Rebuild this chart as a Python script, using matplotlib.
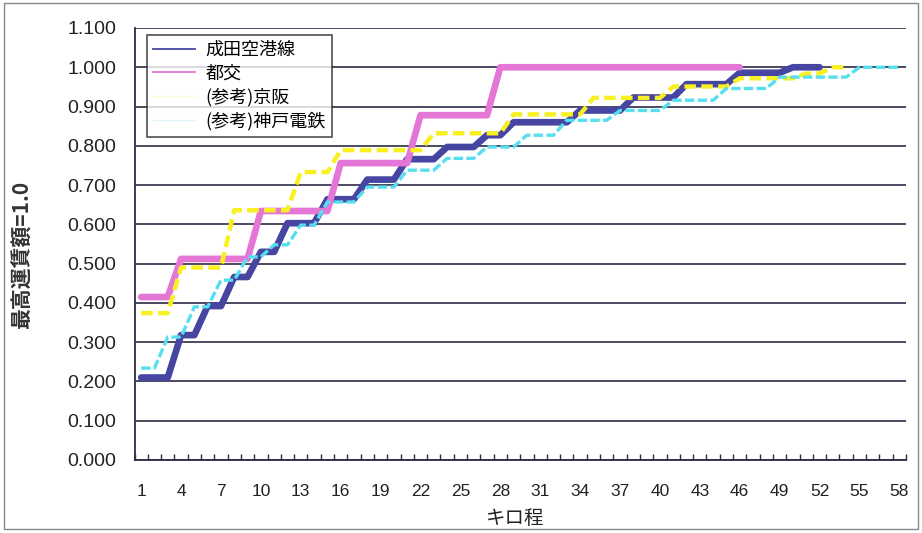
import matplotlib
matplotlib.use('Agg')
import matplotlib.pyplot as plt
from matplotlib.lines import Line2D
from matplotlib.patches import Rectangle

JP = ['Noto Sans CJK JP', 'DejaVu Sans']
NUM = ['Liberation Sans', 'DejaVu Sans']
NUM_X = ['Liberation Sans Narrow', 'Liberation Sans', 'DejaVu Sans']

# km 1..58, fare ratio to max fare
km = list(range(1, 59))
xtick_km = list(range(1, 59, 3))

narita = [0.210, 0.210, 0.210, 0.318, 0.318, 0.392, 0.392, 0.466, 0.466, 0.530,
          0.530, 0.603, 0.603, 0.603, 0.664, 0.664, 0.664, 0.714, 0.714, 0.714,
          0.766, 0.766, 0.766, 0.797, 0.797, 0.797, 0.827, 0.827, 0.860, 0.860,
          0.860, 0.860, 0.860, 0.890, 0.890, 0.890, 0.890, 0.923, 0.923, 0.923,
          0.923, 0.957, 0.957, 0.957, 0.957, 0.986, 0.986, 0.986, 0.986, 1.000,
          1.000, 1.000]
toei = [0.415, 0.415, 0.415, 0.512, 0.512, 0.512, 0.512, 0.512, 0.512, 0.634,
        0.634, 0.634, 0.634, 0.634, 0.634, 0.756, 0.756, 0.756, 0.756, 0.756,
        0.756, 0.878, 0.878, 0.878, 0.878, 0.878, 0.878, 1.000, 1.000, 1.000,
        1.000, 1.000, 1.000, 1.000, 1.000, 1.000, 1.000, 1.000, 1.000, 1.000,
        1.000, 1.000, 1.000, 1.000, 1.000, 1.000]
keihan = [0.374, 0.374, 0.374, 0.490, 0.490, 0.490, 0.490, 0.636, 0.636, 0.636,
          0.636, 0.636, 0.733, 0.733, 0.733, 0.789, 0.789, 0.789, 0.789, 0.789,
          0.789, 0.789, 0.832, 0.832, 0.832, 0.832, 0.832, 0.832, 0.880, 0.880,
          0.880, 0.880, 0.880, 0.880, 0.922, 0.922, 0.922, 0.922, 0.922, 0.922,
          0.951, 0.951, 0.951, 0.951, 0.951, 0.972, 0.972, 0.972, 0.972, 0.972,
          0.984, 0.984, 1.000, 1.000]
kobe = [0.234, 0.234, 0.313, 0.313, 0.390, 0.390, 0.458, 0.458, 0.517, 0.517,
        0.548, 0.548, 0.598, 0.598, 0.657, 0.657, 0.657, 0.695, 0.695, 0.695,
        0.738, 0.738, 0.738, 0.768, 0.768, 0.768, 0.797, 0.797, 0.797, 0.827,
        0.827, 0.827, 0.865, 0.865, 0.865, 0.865, 0.890, 0.890, 0.890, 0.890,
        0.916, 0.916, 0.916, 0.916, 0.946, 0.946, 0.946, 0.946, 0.975, 0.975,
        0.975, 0.975, 0.975, 0.975, 1.000, 1.000, 1.000, 1.000]

labels = ['成田空港線', '都交', '(参考)京阪', '(参考)神戸電鉄']
c_blue = '#4646a2'
c_pink = '#e476d6'
c_yel = '#f8f020'
c_cyan = '#55dff0'
c_grid = '#2e2b45'

fig = plt.figure(figsize=(9.22, 5.33), dpi=100)
ax = fig.add_axes([134.5 / 922, 73 / 533, 771.5 / 922, 432 / 533])

ax.set_xlim(0.5, 58.5)
ax.set_ylim(0, 1.1)

yt = [i / 10 for i in range(12)]
ax.set_yticks(yt)
ax.set_yticklabels([f'{v:.3f}' for v in yt], family=NUM, fontsize=14, color='#222222')
ax.yaxis.grid(True, color=c_grid, linewidth=1.2)
ax.set_axisbelow(True)
ax.tick_params(axis='y', length=0, pad=13)

ax.set_xticks(xtick_km)
ax.set_xticklabels([str(k) for k in xtick_km], family=NUM_X, fontsize=12.5, color='#222222')
ax.set_xticks([k + 0.5 for k in range(0, 59)], minor=True)
ax.tick_params(axis='x', which='major', length=0, pad=17)
ax.tick_params(axis='x', which='minor', direction='in', length=4, width=1, color=c_grid)

for s in ['top', 'right']:
    ax.spines[s].set_visible(False)
for s in ['left', 'bottom']:
    ax.spines[s].set_color(c_grid)
    ax.spines[s].set_linewidth(1.3)

ax.plot(km[:len(narita)], narita, color=c_blue, lw=4.8, solid_joinstyle='round', solid_capstyle='round', zorder=3)
ax.plot(km[:len(toei)], toei, color=c_pink, lw=4.8, solid_joinstyle='round', solid_capstyle='round', zorder=4)
ax.plot(km[:len(keihan)], keihan, color=c_yel, lw=3.2, dashes=(2.6, 1.2), zorder=5)
ax.plot(km[:len(kobe)], kobe, color=c_cyan, lw=2.4, dashes=(2.8, 1.0), zorder=6)

handles = [
    Line2D([], [], color=c_blue, lw=1.3),
    Line2D([], [], color=c_pink, lw=1.3),
    Line2D([], [], color=c_yel, lw=1.0, alpha=0.2),
    Line2D([], [], color=c_cyan, lw=1.0, alpha=0.2),
]
leg = ax.legend(handles, labels, loc='upper left', bbox_to_anchor=(0.016, 0.984),
                borderaxespad=0, prop={'family': JP, 'size': 13}, frameon=True,
                fancybox=False, edgecolor='#222222', handlelength=2.3,
                handletextpad=0.6, labelspacing=0.3, borderpad=0.35)
leg.get_frame().set_linewidth(1.2)
leg.set_zorder(10)

fig.text(22 / 922, 1 - 255 / 533, '最高運賃額=1.0', rotation=90, ha='center', va='center',
         family=JP, fontsize=15, fontweight='bold', color='#333333')
fig.text(515 / 922, 1 - 518 / 533, 'キロ程', ha='center', va='center',
         family=JP, fontsize=14, color='#222222')

fig.patches.append(Rectangle((4 / 922, 4 / 533), 914 / 922, 526 / 533, transform=fig.transFigure,
                             fill=False, edgecolor='#888888', linewidth=1.0))

fig.savefig('out.png', dpi=100)
